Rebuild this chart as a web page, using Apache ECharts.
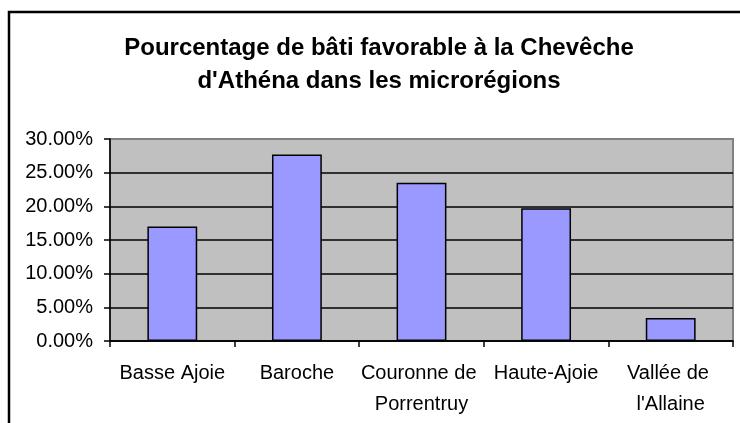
<!DOCTYPE html>
<html>
<head>
<meta charset="utf-8">
<script src="https://cdn.jsdelivr.net/npm/echarts@6/dist/echarts.min.js"></script>
<style>
  html, body { margin: 0; padding: 0; background: #fff; }
  #chart { width: 740px; height: 423px; }
</style>
</head>
<body>
<div id="chart"></div>
<script>
const titleText = 'Pourcentage de bâti favorable à la Chevêche\nd\'Athéna dans les microrégions'
const categories = ['Basse Ajoie', 'Baroche', 'Couronne de Porrentruy', 'Haute-Ajoie', 'Vallée de l\'Allaine']
const values = [17.0, 27.7, 23.5, 19.7, 3.4] // en %
const yTicks = [0, 5, 10, 15, 20, 25, 30]

const chart = echarts.init(document.getElementById('chart'))

chart.setOption({
  backgroundColor: '#fff',
  animation: false,
  title: {
    text: titleText,
    left: 379,
    top: 32,
    padding: 0,
    textAlign: 'center',
    textStyle: {
      fontFamily: 'Liberation Sans',
      fontSize: 24,
      fontWeight: 'bold',
      lineHeight: 33,
      color: '#000'
    }
  },
  graphic: [
    {
      type: 'rect',
      shape: { x: 9, y: 12, width: 800, height: 500 },
      style: { fill: 'none', stroke: '#000', lineWidth: 2.5 },
      silent: true
    }
  ],
  grid: {
    left: 110,
    right: 7,
    top: 139,
    bottom: 82,
    show: true,
    backgroundColor: '#C0C0C0',
    borderColor: '#808080',
    borderWidth: 2
  },
  xAxis: {
    type: 'category',
    data: categories,
    axisLine: { lineStyle: { color: '#000', width: 1.5 } },
    axisTick: { show: true, length: 6, lineStyle: { color: '#000', width: 1.5 } },
    axisLabel: {
      color: '#000',
      fontFamily: 'Liberation Sans',
      fontSize: 20,
      lineHeight: 31,
      margin: 17,
      width: 124,
      overflow: 'break',
      interval: 0
    }
  },
  yAxis: {
    type: 'value',
    min: yTicks[0],
    max: yTicks[yTicks.length - 1],
    interval: 5,
    axisLine: { show: true, lineStyle: { color: '#000', width: 1.5 } },
    axisTick: { show: true, length: 6, lineStyle: { color: '#000', width: 1.5 } },
    axisLabel: {
      color: '#000',
      fontFamily: 'Liberation Sans',
      fontSize: 20,
      margin: 17,
      formatter: v => v.toFixed(2) + '%'
    },
    splitLine: {
      show: true,
      lineStyle: {
        color: ['#000', '#000', '#000', '#000', '#000', '#000', '#808080'],
        width: 1.5
      }
    }
  },
  series: [
    {
      type: 'bar',
      data: values,
      barWidth: '40%',
      itemStyle: {
        color: '#9999FF',
        borderColor: '#000',
        borderWidth: 1.5
      }
    }
  ]
})
</script>
</body>
</html>
